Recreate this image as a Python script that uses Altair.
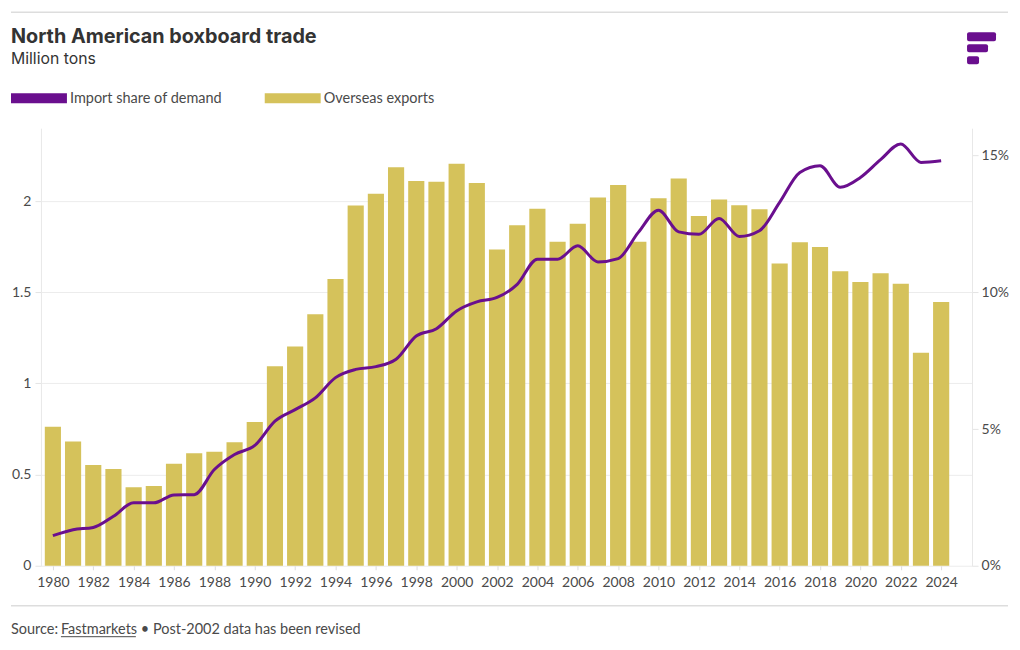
import altair as alt
import pandas as pd

years = list(range(1980, 2025))
exports = [0.763, 0.681, 0.553, 0.531, 0.431, 0.437, 0.559, 0.617, 0.625, 0.678,
           0.789, 1.094, 1.202, 1.379, 1.573, 1.976, 2.040, 2.186, 2.111, 2.106,
           2.205, 2.100, 1.735, 1.867, 1.958, 1.777, 1.876, 2.020, 2.088, 1.777,
           2.016, 2.124, 1.918, 2.009, 1.978, 1.956, 1.658, 1.775, 1.748, 1.616,
           1.556, 1.605, 1.547, 1.169, 1.447]
import_share = [1.10, 1.32, 1.40, 1.81, 2.30, 2.30, 2.59, 2.60, 3.52, 4.07,
                4.40, 5.29, 5.71, 6.14, 6.88, 7.18, 7.28, 7.55, 8.40, 8.67,
                9.32, 9.65, 9.81, 10.29, 11.21, 11.21, 11.70, 11.11, 11.23, 12.19,
                13.00, 12.21, 12.12, 12.70, 12.04, 12.25, 13.29, 14.38, 14.63, 13.84,
                14.20, 14.85, 15.42, 14.75, 14.81]
left_ticks = [0, 0.5, 1, 1.5, 2]
right_ticks = [0, 5, 10, 15]

TITLE = "North American boxboard trade"
SUBTITLE = "Million tons"
LEGEND_LINE = "Import share of demand"
LEGEND_BAR = "Overseas exports"
SRC_A = "Source:"
SRC_LINK = "Fastmarkets"
SRC_B = "\u2022 Post-2002 data has been revised"

BAR_COLOR = "#d5c25b"
LINE_COLOR = "#6a0f8e"
FONT = "Lato"
TITLE_FONT = "Inter"
TEXT_COLOR = "#4a4a4a"

df = pd.DataFrame({"year": years, "exports": exports, "share": import_share})

xscale = alt.Scale(domain=[1979.41, 2025.53], nice=False, zero=False)

base = alt.Chart(df)

bars = base.mark_bar(color=BAR_COLOR).transform_calculate(
    x0="datum.year - 0.4", x1="datum.year + 0.4", base0="0"
).encode(
    x=alt.X("x0:Q", scale=xscale, title=None,
            axis=alt.Axis(values=years, format="d", domain=False, grid=False,
                          tickSize=4, tickColor="#dddddd", labelPadding=6,
                          labelFontSize=14, labelColor=TEXT_COLOR, labelFont=FONT,
                          labelExpr="datum.value % 2 == 0 ? datum.label : ''")),
    x2="x1:Q",
    y=alt.Y("exports:Q", scale=alt.Scale(domain=[0, 2.4], nice=False), title=None,
            axis=alt.Axis(values=left_ticks, orient="left", grid=True, format="~g",
                          gridColor="#ececec", domain=True, domainColor="#e8e8e8",
                          tickColor="#e4e4e4", tickSize=6, labelPadding=4,
                          labelFontSize=14, labelColor=TEXT_COLOR, labelFont=FONT)),
    y2="base0:Q",
)

line = base.mark_line(color=LINE_COLOR, strokeWidth=3, interpolate="monotone").encode(
    x=alt.X("year:Q", scale=xscale),
    y=alt.Y("share:Q", scale=alt.Scale(domain=[0, 16], nice=False), title=None,
            axis=alt.Axis(values=right_ticks, orient="right", grid=False,
                          domain=True, domainColor="#e8e8e8", tickColor="#e4e4e4",
                          tickSize=6, labelPadding=3, labelFontSize=14,
                          labelColor=TEXT_COLOR, labelFont=FONT,
                          labelExpr="datum.value + '%'")),
)

plot = alt.layer(bars, line).resolve_scale(y="independent")


def txt(s, x, y, size=14, weight="normal", color=TEXT_COLOR, font=FONT):
    return alt.Chart(pd.DataFrame({"t": [s]})).mark_text(
        align="left", baseline="alphabetic", font=font, fontSize=size,
        fontWeight=weight, color=color
    ).encode(text="t:N", x=alt.value(x), y=alt.value(y))


def rect(x, x2, y, y2, color, radius=0):
    return alt.Chart(pd.DataFrame({"k": [0]})).mark_rect(
        color=color, cornerRadius=radius
    ).encode(x=alt.value(x), x2=alt.value(x2), y=alt.value(y), y2=alt.value(y2))


def hrule(x, x2, y, color, w):
    return alt.Chart(pd.DataFrame({"k": [0]})).mark_rule(
        color=color, strokeWidth=w
    ).encode(x=alt.value(x), x2=alt.value(x2), y=alt.value(y))


decor = [
    hrule(-30, 968, -116, "#dddddd", 1.5),
    txt(TITLE, -30, -85, size=19.8, weight="bold", color="#333333", font=TITLE_FONT),
    txt(SUBTITLE, -30, -64, size=15.8, color="#333333", font=TITLE_FONT),
    rect(-30, 26, -35, -25, LINE_COLOR),
    txt(LEGEND_LINE, 29, -25, size=14.5),
    rect(224, 280, -35, -25, BAR_COLOR),
    txt(LEGEND_BAR, 283, -25, size=14.5),
    rect(927, 956, -96, -87, LINE_COLOR, 2),
    rect(927, 948, -84, -76, LINE_COLOR, 2),
    rect(927, 939, -72, -64, LINE_COLOR, 2),
    hrule(-30, 968, 478, "#dddddd", 1.5),
    txt(SRC_A, -30, 506, size=14.5),
    txt(SRC_LINK, 20, 506, size=14.5),
    hrule(20, 95, 509, TEXT_COLOR, 1),
    txt(SRC_B, 100, 506, size=14.5),
]

chart = alt.layer(plot, *decor).properties(
    width=932, height=438,
    autosize=alt.AutoSizeParams(type="none"),
    padding={"left": 33, "top": 120, "right": 40, "bottom": 78},
).configure_view(strokeWidth=0)

chart.save("out.html", embed_options={"renderer": "svg", "actions": False})
